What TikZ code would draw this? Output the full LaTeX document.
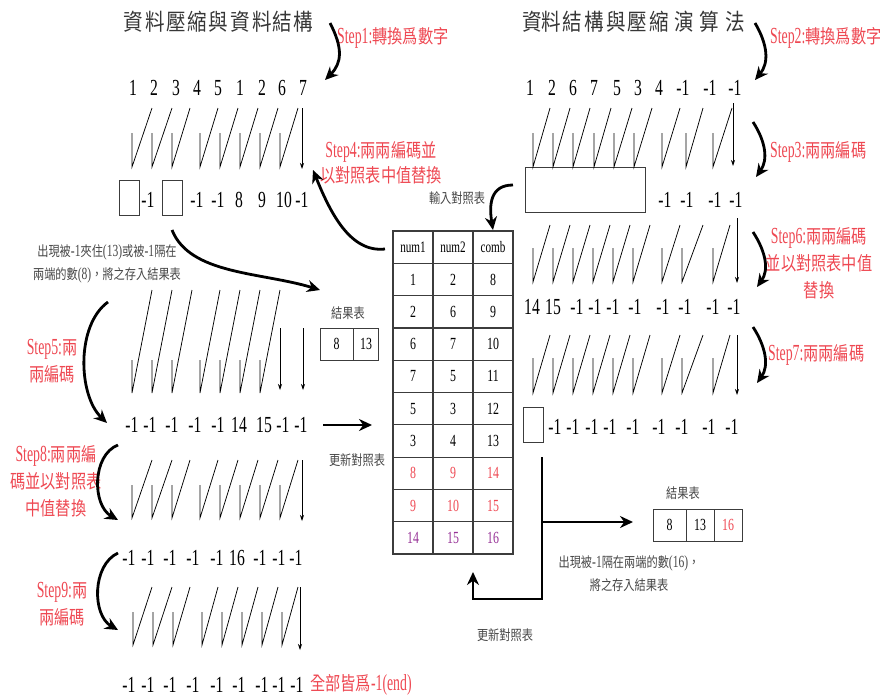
\documentclass[tikz,border=0pt]{standalone}
\usepackage{fontspec}
\setmainfont[FakeStretch=0.68]{Liberation Serif}
\newfontfamily\cj[FakeStretch=0.8]{Noto Sans CJK TC}
\newfontfamily\cjt[FakeStretch=0.85]{Noto Sans CJK TC}
\newfontfamily\tabf[FakeStretch=0.7]{Liberation Serif}
\newfontfamily\labf[FakeStretch=0.6]{Liberation Serif}
\newcommand\cjl{\cj\fontsize{19}{27}\selectfont}
\newcommand\cjn{\cj\fontsize{14}{23}\selectfont}
\usetikzlibrary{arrows.meta}
\definecolor{stepred}{RGB}{238,72,82}
\definecolor{purp}{RGB}{150,50,150}
\definecolor{notegray}{RGB}{70,70,70}
\definecolor{titlegray}{RGB}{55,55,55}
\definecolor{linegray}{RGB}{60,60,60}
\newcommand\slashrow[4]{\foreach \xb/\xt in {#4} {\draw[thinln] (\xb,#1) -- (\xb,#2) -- (\xt,#3);}}
\begin{document}
\begin{tikzpicture}[x=1pt,y=-1pt,
 num/.style={font=\fontsize{23}{24}\selectfont, inner sep=0pt},
 ttl/.style={font=\cjt\fontsize{23}{24}\selectfont, text=titlegray, inner sep=0pt},
 lab/.style={text=stepred, font=\labf\fontsize{23}{27}\selectfont, align=center, inner sep=0pt},
 note/.style={text=notegray, font=\fontsize{17}{23}\selectfont, align=center, inner sep=0pt},
 cell/.style={font=\tabf\fontsize{17}{18}\selectfont, inner sep=0pt},
 hcell/.style={font=\tabf\fontsize{16}{17}\selectfont, inner sep=0pt},
 thinln/.style={line width=0.75pt},
 tipln/.style={line width=0.75pt, -{Stealth[length=6pt,width=4pt]}},
 bigarr/.style={line width=2.8pt, -{Stealth[length=13pt,width=12pt]}},
 boxst/.style={draw=linegray, line width=1pt, inner sep=0pt},
 gridln/.style={draw=linegray, line width=1.2pt},
]
\useasboundingbox (0,0) rectangle (880,697);

% ---------- titles ----------
\foreach \x/\ch [count=\i] in {133/資,155/料,176/壓,197/縮,218/與,240/資,262/料,282/結,303/構}
  \node[ttl] (tl\i) at (\x,22) {\ch};
\foreach \x/\ch [count=\i] in {532/資,551/料,572/結,594/構,616/與,637/壓,659/縮,684/演,709/算,735/法}
  \node[ttl] (tr\i) at (\x,22) {\ch};

% ---------- step labels ----------
\node[lab, anchor=west] (st1) at (337,38) {Step1:{\cjl 轉換爲數字}};
\node[lab, anchor=west] (st2) at (770,38) {Step2:{\cjl 轉換爲數字}};
\node[lab, anchor=west] (st3) at (770,152) {Step3:{\cjl 兩兩編碼}};
\node[lab, font=\labf\fontsize{23}{25}\selectfont] (st4) at (381,162.5) {Step4:{\cjl 兩兩編碼並}\\{\cjl 以對照表中值替換}};
\node[lab] (st5) at (52,361) {Step5:{\cjl 兩}\\{\cjl 兩編碼}};
\node[lab] (st6) at (819,263.5) {Step6:{\cjl 兩兩編碼}\\{\cjl 並以對照表中值}\\{\cjl 替換}};
\node[lab, anchor=west] (st7) at (768,355) {Step7:{\cjl 兩兩編碼}};
\node[lab] (st8) at (56,481.5) {Step8:{\cjl 兩兩編}\\{\cjl 碼並以對照表}\\{\cjl 中值替換}};
\node[lab] (st9) at (62,604) {Step9:{\cjl 兩}\\{\cjl 兩編碼}};
\node[lab, anchor=west] (stend) at (310,685) {{\cjl 全部皆爲}-1(end)};

% ---------- notes ----------
\node[note] (n1) at (107,263.5) {{\cjn 出現被}-1{\cjn 夾住}(13){\cjn 或被}-1{\cjn 隔在}\\{\cjn 兩端的數}(8){\cjn ，將之存入結果表}};
\node[note] (n2) at (629,574) {{\cjn 出現被}-1{\cjn 隔在兩端的數}(16){\cjn ，}\\{\cjn 將之存入結果表}};
\node[note] (nin) at (457,198) {\cjn 輸入對照表};
\node[note] (nup1) at (357,460) {\cjn 更新對照表};
\node[note] (nup2) at (505,635) {\cjn 更新對照表};
\node[note] (nres1) at (348,313) {\cjn 結果表};
\node[note] (nres2) at (683,493) {\cjn 結果表};

% ---------- number rows ----------
\foreach \x/\t [count=\i] in {133/1,154/2,176/3,197/4,218/5,240/1,262/2,282/6,303/7}
  \node[num] (ra\i) at (\x,88) {\t};
\foreach \x/\t [count=\i] in {530/1,552/2,573/6,594/7,617/5,638/3,659/4,683/-1,710/-1,735/-1}
  \node[num] (rb\i) at (\x,88) {\t};
\foreach \x/\t [count=\i] in {148/-1,197/-1,218/-1,239/8,262/9,284/10,302/-1}
  \node[num] (rc\i) at (\x,200) {\t};
\foreach \x/\t [count=\i] in {665/-1,687/-1,715/-1,736/-1}
  \node[num] (rd\i) at (\x,200) {\t};
\foreach \x/\t [count=\i] in {532/14,553/15,577/-1,595/-1,613/-1,635/-1,663/-1,685/-1,713/-1,734/-1}
  \node[num] (re\i) at (\x,307) {\t};
\foreach \x/\t [count=\i] in {132/-1,150/-1,172/-1,195/-1,218/-1,239/14,264/15,283/-1,301/-1}
  \node[num] (rf\i) at (\x,425) {\t};
\foreach \x/\t [count=\i] in {555/-1,573/-1,592/-1,610/-1,633/-1,659/-1,682/-1,709/-1,732/-1}
  \node[num] (rg\i) at (\x,427) {\t};
\foreach \x/\t [count=\i] in {129/-1,148/-1,170/-1,193/-1,217/-1,237/16,260/-1,279/-1,296/-1}
  \node[num] (rh\i) at (\x,558) {\t};
\foreach \x/\t [count=\i] in {129/-1,148/-1,170/-1,193/-1,217/-1,239/-1,262/-1,279/-1,297/-1}
  \node[num] (ri\i) at (\x,685) {\t};

% ---------- empty boxes ----------
\node[boxst, minimum width=20pt, minimum height=35pt] (bx1) at (129,197.5) {};
\node[boxst, minimum width=20pt, minimum height=35pt] (bx2) at (172,197.5) {};
\node[boxst, minimum width=120pt, minimum height=45pt] (bx3) at (585,189.5) {};
\node[boxst, minimum width=20pt, minimum height=35pt] (bx4) at (533,424.5) {};

% ---------- pairing strokes ----------
\slashrow{133}{167}{108}{132/152,152/172,172/190,200/218,220/238,240/258,260/278,280/298}
\draw[tipln] (302,108) -- (302,169);
\slashrow{360}{393}{290}{132/152,152/172,172/192,200/220,220/240,240/260,260/280}
\draw[tipln] (280,328) -- (280,390);
\draw[tipln] (303,328) -- (303,390);
\slashrow{485}{518}{460}{132/152,152/172,172/190,200/218,220/238,240/258,260/278,280/298}
\draw[tipln] (302,460) -- (302,521);
\slashrow{612}{645}{587}{133/152,153/172,173/190,202/218,222/238,242/258,262/278,282/298}
\draw[tipln] (300,587) -- (300,650);
\slashrow{133}{167}{108}{533/550,553/570,573/590,594/611,614/632,634/652,662/680,686/703,713/732}
\draw[tipln] (733,103) -- (733,166);
\slashrow{248}{282}{225}{533/550,553/570,573/590,593/610,613/630,633/650,662/680,682/703,713/730}
\draw[tipln] (737,218) -- (737,283);
\slashrow{358}{393}{335}{533/550,553/570,573/590,593/610,613/630,633/650,662/680,682/703,713/730}
\draw[tipln] (737,335) -- (737,395);

% ---------- lookup table ----------
\node[gridln, minimum width=120pt, minimum height=323pt, inner sep=0pt] (tbl) at (453,392.5) {};
\foreach \x in {433,473} \draw[gridln] (\x,231) -- (\x,554);
\foreach \k in {1,...,9} \draw[gridln] (393,{231+32.3*\k}) -- (513,{231+32.3*\k});
\node[hcell] (h1) at (413,247) {num1};
\node[hcell] (h2) at (453,247) {num2};
\node[hcell] (h3) at (493,247) {comb};
\foreach \a/\b/\c [count=\k] in {1/2/8,2/6/9,6/7/10,7/5/11,5/3/12,3/4/13} {
  \node[cell] (ta\k) at (413,{247.15+32.3*\k}) {\a};
  \node[cell] (tb\k) at (453,{247.15+32.3*\k}) {\b};
  \node[cell] (tc\k) at (493,{247.15+32.3*\k}) {\c};
}
\foreach \a/\b/\c [count=\k from 7] in {8/9/14,9/10/15} {
  \node[cell, text=stepred] (ta\k) at (413,{247.15+32.3*\k}) {\a};
  \node[cell, text=stepred] (tb\k) at (453,{247.15+32.3*\k}) {\b};
  \node[cell, text=stepred] (tc\k) at (493,{247.15+32.3*\k}) {\c};
}
\node[cell, text=purp] (ta9) at (413,{247.15+32.3*9}) {14};
\node[cell, text=purp] (tb9) at (453,{247.15+32.3*9}) {15};
\node[cell, text=purp] (tc9) at (493,{247.15+32.3*9}) {16};

% ---------- result tables ----------
\node[boxst, minimum width=58pt, minimum height=32pt] (res1) at (349,344) {};
\draw[linegray, line width=1pt] (353,328) -- (353,360);
\node[cell] (r1a) at (336.5,344) {8};
\node[cell] (r1b) at (366,344) {13};
\node[boxst, minimum width=89pt, minimum height=32pt] (res2) at (697.5,525) {};
\draw[linegray, line width=1pt] (686,509) -- (686,541);
\draw[linegray, line width=1pt] (714,509) -- (714,541);
\node[cell] (r2a) at (669.5,525) {8};
\node[cell] (r2b) at (700,525) {13};
\node[cell, text=stepred] (r2c) at (728,525) {16};

% ---------- thick arrows ----------
\coordinate (a1s) at (330,23);  \coordinate (a1e) at (325,80);
\draw[bigarr] (a1s) .. controls (343,48) and (342,63) .. (a1e);
\coordinate (a2s) at (755,23);  \coordinate (a2e) at (755,80);
\draw[bigarr] (a2s) .. controls (768,45) and (769,63) .. (a2e);
\coordinate (a3s) at (753,122); \coordinate (a3e) at (756,177);
\draw[bigarr] (a3s) .. controls (766,142) and (768,160) .. (a3e);
\coordinate (a6s) at (753,232); \coordinate (a6e) at (757,287);
\draw[bigarr] (a6s) .. controls (766,252) and (769,270) .. (a6e);
\coordinate (a7s) at (753,327); \coordinate (a7e) at (757,383);
\draw[bigarr] (a7s) .. controls (766,347) and (769,366) .. (a7e);
\coordinate (a4s) at (385,249); \coordinate (a4e) at (313,170);
\draw[bigarr] (a4s) .. controls (350,253) and (330,212) .. (a4e);
\coordinate (ais) at (513,185); \coordinate (aie) at (493,230);
\draw[bigarr] (ais) .. controls (490,185) and (489,205) .. (aie);
\coordinate (ars) at (172,230); \coordinate (are) at (320,290);
\draw[bigarr] (ars) .. controls (190,275) and (262,272) .. (are);
\coordinate (a5s) at (108,302); \coordinate (a5e) at (107,423);
\draw[bigarr] (a5s) .. controls (76,325) and (78,395) .. (a5e);
\coordinate (a8s) at (118,445); \coordinate (a8e) at (118,520);
\draw[bigarr] (a8s) .. controls (92,455) and (92,505) .. (a8e);
\coordinate (a9s) at (118,553); \coordinate (a9e) at (118,630);
\draw[bigarr] (a9s) .. controls (92,565) and (92,615) .. (a9e);
\coordinate (rts) at (323,425); \coordinate (rte) at (372,425);
\draw[bigarr] (rts) -- (rte);
\coordinate (e1) at (542,457); \coordinate (e2) at (542,599);
\coordinate (e3) at (473,599); \coordinate (e4) at (473,572);
\coordinate (eb) at (542,522); \coordinate (ebe) at (633,522);
\draw[bigarr, line join=miter] (e1) -- (e2) -- (e3) -- (e4);
\draw[bigarr] (eb) -- (ebe);
\end{tikzpicture}
\end{document}
